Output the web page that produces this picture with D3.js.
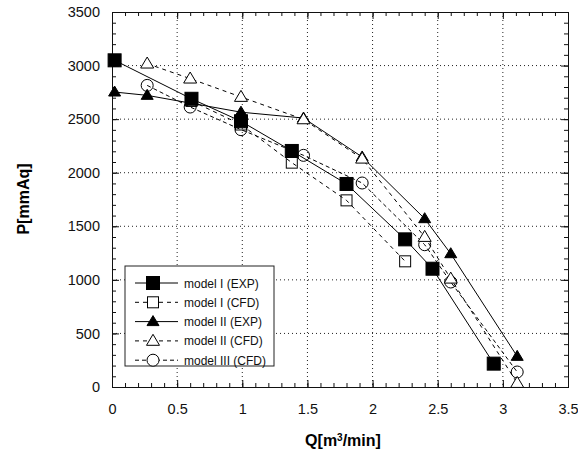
<!DOCTYPE html>
<html>
<head>
<meta charset="utf-8">
<script src="https://cdn.jsdelivr.net/npm/d3@7"></script>
<style>
body { margin: 0; background: #fff; }
text { font-family: "Liberation Sans", Arial, sans-serif; }
</style>
</head>
<body>
<svg id="chart" width="578" height="457"></svg>
<script>
// data
var xTicks = [0, 0.5, 1, 1.5, 2, 2.5, 3, 3.5];
var yTicks = [0, 500, 1000, 1500, 2000, 2500, 3000, 3500];

var m1ExpQ = [0.02, 0.61, 0.99, 1.38, 1.80, 2.25, 2.46, 2.93];
var m1ExpP = [3049, 2690, 2480, 2203, 1895, 1378, 1104, 218];

var m1CfdQ = [0.61, 0.99, 1.38, 1.80, 2.25];
var m1CfdP = [2670, 2450, 2094, 1742, 1173];

var m2ExpQ = [0.02, 0.27, 0.99, 1.47, 1.92, 2.40, 2.60, 3.11];
var m2ExpP = [2753, 2722, 2565, 2510, 2147, 1571, 1244, 286];

var m2CfdQ = [0.27, 0.60, 0.99, 1.47, 1.92, 2.40, 2.60, 3.11];
var m2CfdP = [3018, 2878, 2707, 2498, 2131, 1400, 1011, 37];

var m3CfdQ = [0.27, 0.60, 0.99, 1.47, 1.92, 2.40, 2.60, 3.11];
var m3CfdP = [2815, 2613, 2402, 2162, 1904, 1328, 980, 140];

var seriesNames = ["model I (EXP)", "model I (CFD)", "model II (EXP)", "model II (CFD)", "model III (CFD)"];

var series = [
    {name: seriesNames[0], q: m1ExpQ, p: m1ExpP, dash: null, mark: "square", fill: "#000"},
    {name: seriesNames[1], q: m1CfdQ, p: m1CfdP, dash: "4,4", mark: "square", fill: "none"},
    {name: seriesNames[2], q: m2ExpQ, p: m2ExpP, dash: null, mark: "triangle", fill: "#000"},
    {name: seriesNames[3], q: m2CfdQ, p: m2CfdP, dash: "4,4", mark: "triangle", fill: "#fff"},
    {name: seriesNames[4], q: m3CfdQ, p: m3CfdP, dash: "4,3", mark: "circle", fill: "none"}
];
// which series' markers go on top of which
var markOrder = [1, 4, 2, 3, 0];

var svg = d3.select("#chart");

// plot box (window.top is taken, so own names)
var plotL = 112, plotR = 568, plotT = 12, plotB = 387;

var x = d3.scaleLinear().domain([0, 3.5]).range([plotL, plotR]);
var y = d3.scaleLinear().domain([0, 3500]).range([plotB, plotT]);

// dotted grid
var grid = svg.append("g");
grid.selectAll("line.gx")
    .data(xTicks.slice(1, -1))
    .enter().append("line")
    .attr("x1", function(d){return x(d);})
    .attr("x2", function(d){return x(d);})
    .attr("y1", plotT).attr("y2", plotB)
    .attr("stroke", "#222").attr("stroke-width", 1)
    .attr("stroke-dasharray", "1,3");
grid.selectAll("line.gy")
    .data(yTicks.slice(1, -1))
    .enter().append("line")
    .attr("y1", function(d){return y(d);})
    .attr("y2", function(d){return y(d);})
    .attr("x1", plotL).attr("x2", plotR)
    .attr("stroke", "#222").attr("stroke-width", 1)
    .attr("stroke-dasharray", "1,3");

// axes, ticks pointing inward
var xMinor = d3.range(0, 3.51, 0.1);
var yMinor = d3.range(0, 3501, 100);

svg.append("g")
    .attr("transform", "translate(0," + plotB + ")")
    .call(d3.axisBottom(x).tickValues(xMinor).tickSize(-4).tickFormat(""));
svg.append("g")
    .attr("transform", "translate(0," + plotB + ")")
    .call(d3.axisBottom(x).tickValues(xTicks).tickSize(-7).tickPadding(17)
        .tickFormat(function(d){return d;}));
svg.append("g")
    .attr("transform", "translate(0," + plotT + ")")
    .call(d3.axisTop(x).tickValues(xMinor).tickSize(-4).tickFormat(""));
svg.append("g")
    .attr("transform", "translate(0," + plotT + ")")
    .call(d3.axisTop(x).tickValues(xTicks).tickSize(-7).tickFormat(""));

svg.append("g")
    .attr("transform", "translate(" + plotL + ",0)")
    .call(d3.axisLeft(y).tickValues(yMinor).tickSize(-4).tickFormat(""));
svg.append("g")
    .attr("transform", "translate(" + plotL + ",0)")
    .call(d3.axisLeft(y).tickValues(yTicks).tickSize(-7).tickPadding(12)
        .tickFormat(function(d){return d;}));
svg.append("g")
    .attr("transform", "translate(" + plotR + ",0)")
    .call(d3.axisRight(y).tickValues(yMinor).tickSize(-4).tickFormat(""));
svg.append("g")
    .attr("transform", "translate(" + plotR + ",0)")
    .call(d3.axisRight(y).tickValues(yTicks).tickSize(-7).tickFormat(""));

svg.selectAll(".domain").attr("stroke", "#111");
svg.selectAll(".tick line").attr("stroke", "#111");
svg.selectAll(".tick text")
    .attr("font-size", "14.5px")
    .attr("fill", "#111")
    .attr("font-family", "'Liberation Sans', Arial, sans-serif");

// axis titles
svg.append("text")
    .attr("x", 343).attr("y", 446)
    .attr("text-anchor", "middle")
    .attr("font-size", "16px").attr("font-weight", "bold")
    .html("Q[m<tspan baseline-shift='super' font-size='10px'>3</tspan>/min]");
svg.append("text")
    .attr("transform", "translate(29,199) rotate(-90)")
    .attr("text-anchor", "middle")
    .attr("font-size", "16px").attr("font-weight", "bold")
    .text("P[mmAq]");

// marker drawing
function drawMark(g, kind, fill, cx, cy){
    var m;
    var solid = fill === "#000";
    if(kind === "square"){
        var s = solid ? 13 : 11;
        m = g.append("rect").attr("x", cx - s/2).attr("y", cy - s/2)
            .attr("width", s).attr("height", s);
    } else if(kind === "triangle"){
        var h = solid ? 10 : 11;
        var w = solid ? 12 : 13;
        m = g.append("path")
            .attr("d", "M" + cx + "," + (cy - h*0.6) + "L" + (cx + w/2) + "," + (cy + h*0.4) +
                "L" + (cx - w/2) + "," + (cy + h*0.4) + "Z");
    } else {
        m = g.append("circle").attr("cx", cx).attr("cy", cy).attr("r", 6);
    }
    m.attr("fill", fill)
        .attr("stroke", "#000").attr("stroke-width", 1);
}

var line = d3.line()
    .x(function(d){return x(d[0]);})
    .y(function(d){return y(d[1]);});

// lines first, then markers
series.forEach(function(s){
    var pts = s.q.map(function(q, i){return [q, s.p[i]];});
    svg.append("path")
        .attr("d", line(pts))
        .attr("fill", "none")
        .attr("stroke", "#000")
        .attr("stroke-width", 1)
        .attr("stroke-dasharray", s.dash);
});
markOrder.forEach(function(k){
    var s = series[k];
    var g = svg.append("g");
    s.q.forEach(function(q, i){
        drawMark(g, s.mark, s.fill, x(q), y(s.p[i]));
    });
});

// legend
var lg = svg.append("g");
lg.append("rect")
    .attr("x", 125).attr("y", 266)
    .attr("width", 149).attr("height", 100)
    .attr("fill", "#fff").attr("stroke", "#222").attr("stroke-width", 1);
series.forEach(function(s, i){
    var ly = 283 + i * 19.3;
    lg.append("line")
        .attr("x1", 135).attr("x2", 178)
        .attr("y1", ly).attr("y2", ly)
        .attr("stroke", "#000").attr("stroke-width", 1)
        .attr("stroke-dasharray", s.dash);
    drawMark(lg, s.mark, s.fill === "none" ? "#fff" : s.fill, 153, ly);
    lg.append("text")
        .attr("x", 184).attr("y", ly + 4.5)
        .attr("font-size", "12px")
        .attr("fill", "#111")
        .text(s.name);
});
</script>
</body>
</html>
